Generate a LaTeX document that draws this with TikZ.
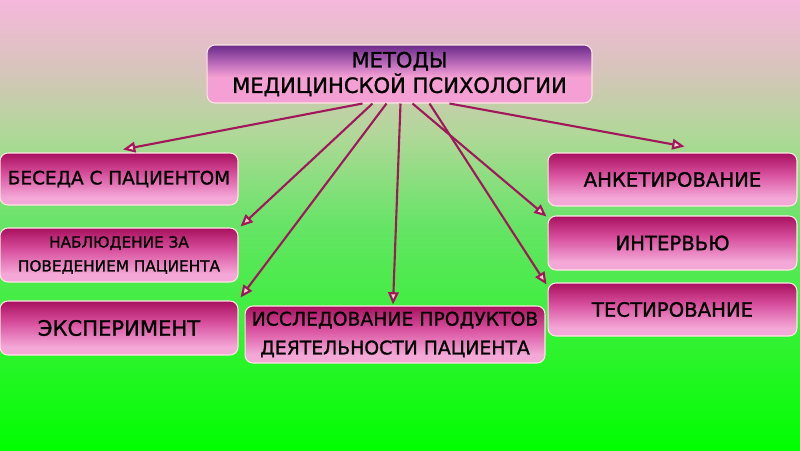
\documentclass[tikz,border=0pt]{standalone}
\usepackage{fontspec}
\setmainfont{DejaVu Sans}[BoldFont = {DejaVu Sans}, BoldFeatures = {FakeBold = 1.2}]
\usetikzlibrary{calc}
\usetikzlibrary{arrows.meta}

\definecolor{bgpink}{HTML}{F6B8DC}
\definecolor{bgrose}{HTML}{D8C4BC}
\definecolor{bglight}{HTML}{B0D898}
\definecolor{bgmid}{HTML}{66E466}
\definecolor{bggreen}{HTML}{00FF00}
\definecolor{boxtop}{HTML}{A8105E}
\definecolor{boxmid}{HTML}{D8509E}
\definecolor{boxlow}{HTML}{F4A8D8}
\definecolor{headtop}{HTML}{6A2A8A}
\definecolor{headmid}{HTML}{B868B8}
\definecolor{headlow}{HTML}{F4A0D4}
\definecolor{arrowline}{HTML}{A0185A}

\pgfdeclareverticalshading{bgshade}{100bp}{color(0bp)=(bggreen); color(25bp)=(bggreen); color(50bp)=(bgmid); color(60bp)=(bglight); color(67.5bp)=(bgrose); color(75bp)=(bgpink); color(100bp)=(bgpink)}
\pgfdeclareverticalshading{boxshade}{100bp}{color(0bp)=(boxlow); color(32.5bp)=(boxlow); color(55bp)=(boxmid); color(75bp)=(boxtop); color(100bp)=(boxtop)}
\pgfdeclareverticalshading{headshade}{100bp}{color(0bp)=(headlow); color(47.5bp)=(headlow); color(60bp)=(headmid); color(75bp)=(headtop); color(100bp)=(headtop)}

\begin{document}
\begin{tikzpicture}[x=0.02cm, y=-0.02cm]
	\tikzset{methbox/.style = {rectangle, rounded corners = 4.5pt, shading = boxshade, draw = pink!40!white, line width = 0.6pt, inner sep = 0pt, align = center, text = black}}
	\tikzset{headbox/.style = {methbox, shading = headshade}}
	\tikzset{meth/.style = {-{Triangle[length = 7pt, width = 6pt, fill = pink!70]}, line width = 1.2pt, arrowline}}

%% Background
\fill[shading = bgshade] (0,0) rectangle (800,450);
\useasboundingbox (0,0) rectangle (800,450);

%% Title node
\draw (399.5,74) node[name = title, headbox, minimum width = 7.7cm, minimum height = 1.16cm, font = \fontsize{12}{14.5}\selectfont\bfseries]{МЕТОДЫ\\МЕДИЦИНСКОЙ ПСИХОЛОГИИ};

%% Left column
\draw (119,179) node[name = beseda, methbox, minimum width = 4.76cm, minimum height = 1.04cm, font = \fontsize{10.5}{13}\selectfont\bfseries]{БЕСЕДА С ПАЦИЕНТОМ};
\draw (119,255) node[name = nabl, methbox, minimum width = 4.76cm, minimum height = 1.08cm, font = \fontsize{8.7}{13.6}\selectfont\bfseries]{НАБЛЮДЕНИЕ ЗА\\ПОВЕДЕНИЕМ ПАЦИЕНТА};
\draw (119,328) node[name = exper, methbox, minimum width = 4.76cm, minimum height = 1.08cm, font = \fontsize{12}{14}\selectfont\bfseries]{ЭКСПЕРИМЕНТ};

%% Middle node
\draw (395,334.5) node[name = issled, methbox, minimum width = 6cm, minimum height = 1.14cm, font = \fontsize{10.7}{16.4}\selectfont\bfseries]{ИССЛЕДОВАНИЕ ПРОДУКТОВ\\ДЕЯТЕЛЬНОСТИ ПАЦИЕНТА};

%% Right column
\draw (672.5,179.5) node[name = anket, methbox, minimum width = 4.98cm, minimum height = 1.06cm, font = \fontsize{11.2}{13}\selectfont\bfseries]{АНКЕТИРОВАНИЕ};
\draw (672.5,243) node[name = interv, methbox, minimum width = 4.98cm, minimum height = 1.08cm, font = \fontsize{11.2}{13}\selectfont\bfseries]{ИНТЕРВЬЮ};
\draw (672.5,309.5) node[name = test, methbox, minimum width = 4.98cm, minimum height = 1.06cm, font = \fontsize{11.2}{13}\selectfont\bfseries]{ТЕСТИРОВАНИЕ};

%% Edges
\draw[meth] ($(title.south)+(-37,0)$) -- ($(beseda.north)+(4,-3)$);
\draw[meth] ($(title.south)+(-27,0)$) -- ($(nabl.north east)+(2,-1)$);
\draw[meth] ($(title.south)+(-13,0)$) -- ($(exper.north east)+(2,-3)$);
\draw[meth] ($(title.south)+(1,0)$) -- ($(issled.north)+(-2,-1)$);
\draw[meth] ($(title.south)+(13,0)$) -- ($(interv.north west)+(-1,1)$);
\draw[meth] ($(title.south)+(30,0)$) -- ($(test.north west)+(-1,2)$);
\draw[meth] ($(title.south)+(50,0)$) -- ($(anket.north)+(12,-6)$);

\end{tikzpicture}
\end{document}
